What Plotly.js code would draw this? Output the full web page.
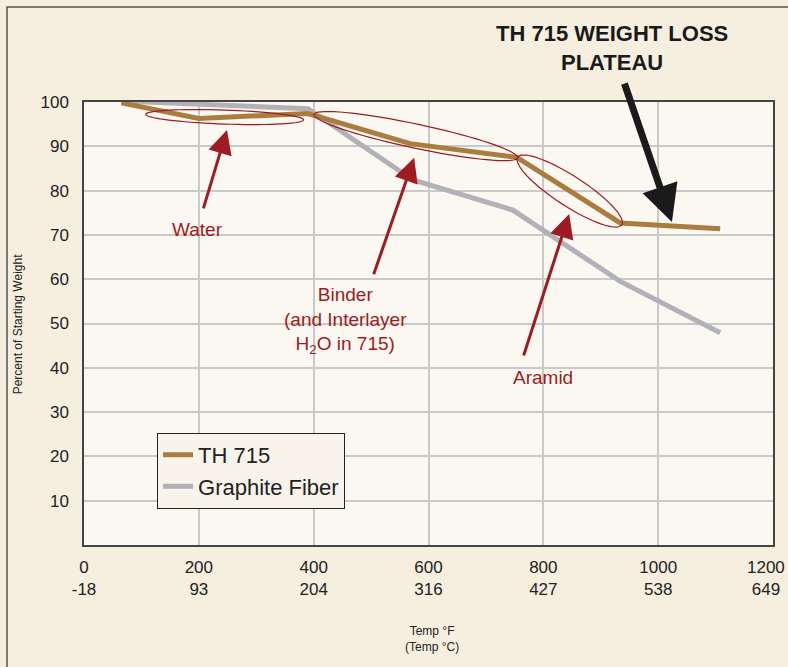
<!DOCTYPE html>
<html>
<head>
<meta charset="utf-8">
<script src="https://cdn.plot.ly/plotly-3.0.1.min.js"></script>
<style>
  body { margin: 0; background: #f6efe0; }
  #plot { width: 788px; height: 667px; }
</style>
</head>
<body>
<div id="plot"></div>
<script>
// Temperatures (°F) and percent of starting weight
var th715Temp = [65, 200, 390, 568, 754, 934, 1108];
var th715Weight = [99.8, 96.3, 97.4, 90.6, 87.5, 72.7, 71.4];
var graphiteTemp = [65, 390, 573, 747, 934, 1108];
var graphiteWeight = [100.2, 98.5, 82.4, 75.6, 59.5, 47.9];

var xTicksF = [0, 200, 400, 600, 800, 1000, 1200];
var xTicksC = ['-18', '93', '204', '316', '427', '538', '649'];
var yTicks = [10, 20, 30, 40, 50, 60, 70, 80, 90, 100];

var red = '#9e1b22';
var fontFam = '"Liberation Sans", Arial, sans-serif';

// margins and pixel scale, used to shape the tilted ellipses
var W = 788, H = 667, mL = 84, mR = 15, mT = 102, mB = 122;
var pxPerX = (W - mL - mR) / 1200;
var pxPerY = (H - mT - mB) / 100;

function ellipsePath(cx, cy, rx, ry, angDeg) {
    var a = angDeg * Math.PI / 180;
    var pts = [];
    for (var i = 0; i <= 72; i++) {
        var t = i / 72 * 2 * Math.PI;
        var dx = rx * Math.cos(t) * Math.cos(a) - ry * Math.sin(t) * Math.sin(a);
        var dy = rx * Math.cos(t) * Math.sin(a) + ry * Math.sin(t) * Math.cos(a);
        pts.push((cx + dx / pxPerX).toFixed(2) + ',' + (cy - dy / pxPerY).toFixed(3));
    }
    return 'M' + pts.join('L') + 'Z';
}

var ellipseStyle = {color: red, width: 1.2};

var traces = [
    {
        x: graphiteTemp, y: graphiteWeight, name: 'Graphite Fiber',
        type: 'scatter', mode: 'lines',
        line: {color: '#b1b2b7', width: 5}
    },
    {
        x: th715Temp, y: th715Weight, name: 'TH 715',
        type: 'scatter', mode: 'lines',
        line: {color: '#a97d3e', width: 5}
    }
];

// two-line tick labels; the last one is nudged left so it stays inside the page
var pad = '\u00A0\u00A0\u00A0';
var tickText = xTicksF.map(function(f, i) {
    var last = i === xTicksF.length - 1;
    return f + (last ? pad : '') + '<br>' + xTicksC[i] + (last ? pad : '');
});

var layout = {
    width: W, height: H,
    margin: {l: mL, r: mR, t: mT, b: mB},
    paper_bgcolor: '#f6efe0',
    plot_bgcolor: '#fbf8f1',
    font: {family: fontFam, color: '#222', size: 17},
    showlegend: true,
    legend: {
        x: 0.106, y: 0.253, xanchor: 'left', yanchor: 'top',
        bgcolor: '#f8f4ec', bordercolor: '#222', borderwidth: 1,
        font: {size: 22, color: '#222'},
        traceorder: 'reversed'
    },
    xaxis: {
        range: [0, 1200],
        tickvals: xTicksF, ticktext: tickText,
        showgrid: true, gridcolor: '#c9c9c9', gridwidth: 1.5,
        showline: true, linecolor: '#444', linewidth: 1.5, mirror: true,
        zeroline: false, ticks: '', ticklabelstandoff: 6,
        ticklabeloverflow: 'allow'
    },
    yaxis: {
        range: [0, 100],
        tickvals: yTicks,
        showgrid: true, gridcolor: '#c9c9c9', gridwidth: 1.5,
        showline: true, linecolor: '#444', linewidth: 1.5, mirror: true,
        zeroline: false, ticks: '', ticklabelstandoff: 10
    },
    shapes: [
        // outer frame
        {type: 'rect', xref: 'paper', yref: 'paper',
         x0: (7 - mL) / (W - mL - mR), x1: 1.2, y0: -0.5, y1: (H - mB - 7) / (H - mT - mB),
         line: {color: '#555', width: 1.5}, layer: 'below'},
        {type: 'path', xref: 'x', yref: 'y', path: ellipsePath(245, 96.6, 79, 7, 2), line: ellipseStyle},
        {type: 'path', xref: 'x', yref: 'y', path: ellipsePath(578, 92.3, 104, 12, 12), line: ellipseStyle},
        {type: 'path', xref: 'x', yref: 'y', path: ellipsePath(846, 79.9, 62, 15, 33), line: ellipseStyle}
    ],
    annotations: [
        {xref: 'paper', yref: 'paper', x: -0.096, y: 0.5, xanchor: 'center', text: 'Percent of Starting Weight',
         textangle: -90, showarrow: false, font: {size: 12}},
        {xref: 'paper', yref: 'paper', x: 0.505, y: -0.174, xanchor: 'center', yanchor: 'top',
         text: 'Temp °F<br>(Temp °C)', showarrow: false, font: {size: 12}},
        {xref: 'paper', yref: 'paper', x: 0.766, y: 1.122, xanchor: 'center', yanchor: 'middle',
         text: '<b>TH 715 WEIGHT LOSS<br>PLATEAU</b>', showarrow: false,
         font: {size: 22, color: '#1a1a1a'}},
        // arrows
        {x: 249, y: 93.7, ax: -24, ay: 80, text: '', showarrow: true,
         arrowcolor: red, arrowwidth: 3, arrowhead: 2, arrowsize: 1.6, standoff: 0},
        {x: 575, y: 87.4, ax: -41, ay: 118, text: '', showarrow: true,
         arrowcolor: red, arrowwidth: 3, arrowhead: 2, arrowsize: 1.6, standoff: 0},
        {x: 845, y: 74.7, ax: -46, ay: 143, text: '', showarrow: true,
         arrowcolor: red, arrowwidth: 3, arrowhead: 2, arrowsize: 1.6, standoff: 0},
        {x: 1024, y: 72.9, ax: -48, ay: -140, text: '', showarrow: true,
         arrowcolor: '#1a1a1a', arrowwidth: 7, arrowhead: 2, arrowsize: 1.05, standoff: 0},
        // labels
        {x: 197, y: 71.2, text: 'Water', showarrow: false, font: {size: 19, color: red}},
        {x: 456, y: 50.6, text: 'Binder<br>(and Interlayer<br>H<sub>2</sub>O in 715)',
         showarrow: false, font: {size: 19, color: red}},
        {x: 800, y: 37.7, text: 'Aramid', showarrow: false, font: {size: 19, color: red}}
    ]
};

Plotly.newPlot('plot', traces, layout, {displayModeBar: false});
</script>
</body>
</html>
